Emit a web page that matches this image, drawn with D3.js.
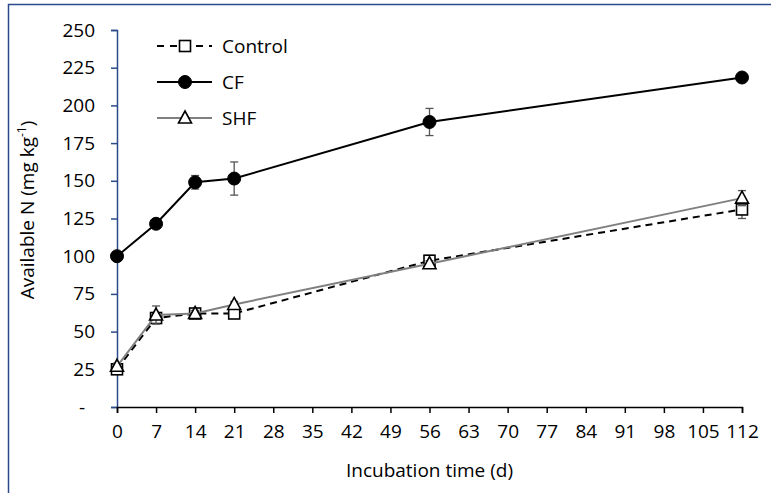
<!DOCTYPE html>
<html>
<head>
<meta charset="utf-8">
<script src="https://cdn.jsdelivr.net/npm/d3@7"></script>
<style>
  body { margin: 0; background: #fff; }
  text { font-family: "Open Sans", "Liberation Sans", sans-serif; fill: #000; }
</style>
</head>
<body>
<div id="chart"></div>
<script>
const days = [0, 7, 14, 21, 56, 112];

const controlVals = [25, 59, 62, 62, 97, 131];
const controlErr  = [2, 3, 2, 3, 3.5, 6];
const cfVals      = [100, 121.5, 149, 151.5, 189, 218.5];
const cfErr       = [1.5, 2, 4.5, 11, 9, 3];
const shfVals     = [27, 61, 62, 68, 95, 138.5];
const shfErr      = [2, 6, 2, 2, 2, 5];

const xTicks = d3.range(0, 113, 7);
const yTicks = [0, 25, 50, 75, 100, 125, 150, 175, 200, 225, 250];

const width  = 771;
const height = 493;
const margin = { left: 117, right: 29, top: 30, bottom: 86 };
const axisBlue = "#2a4a8c";
const fontSize = 19;

const svg = d3.select("#chart")
  .append("svg")
  .attr("width", width)
  .attr("height", height);

// outer frame
svg.append("rect")
  .attr("x", 8.5).attr("y", 4.5)
  .attr("width", width + 20).attr("height", height + 20)
  .attr("fill", "none")
  .attr("stroke", axisBlue)
  .attr("stroke-width", 1.5);

const x = d3.scaleLinear().domain([0, 112]).range([margin.left, width - margin.right]);
const y = d3.scaleLinear().domain([0, 250]).range([height - margin.bottom, margin.top]);

// y axis
const yAxis = svg.append("g")
  .attr("transform", `translate(${margin.left},0)`)
  .call(d3.axisLeft(y).tickValues(yTicks).tickSize(6).tickPadding(16)
    .tickFormat(d => d === 0 ? "-" : d));
yAxis.selectAll("path, line").attr("stroke", axisBlue).attr("stroke-width", 1.5);
yAxis.selectAll("text").attr("font-size", fontSize).style("font-family", "'Open Sans', sans-serif");
yAxis.selectAll(".tick").filter(d => d === 0).select("text").attr("dx", -10);

// x axis
const xAxis = svg.append("g")
  .attr("transform", `translate(0,${y(0)})`)
  .call(d3.axisBottom(x).tickValues(xTicks).tickSizeOuter(0).tickSize(6).tickPadding(12));
xAxis.selectAll("path, line").attr("stroke", "#000").attr("stroke-width", 1.5);
xAxis.selectAll("text").attr("font-size", fontSize).style("font-family", "'Open Sans', sans-serif");

// axis titles
svg.append("text")
  .attr("x", (x(0) + x(112)) / 2)
  .attr("y", 477)
  .attr("text-anchor", "middle")
  .attr("font-size", fontSize)
  .text("Incubation time (d)");

const yTitle = svg.append("text")
  .attr("transform", `translate(34,210) rotate(-90)`)
  .attr("text-anchor", "middle")
  .attr("font-size", fontSize);
yTitle.append("tspan").text("Available N (mg kg");
yTitle.append("tspan").attr("font-size", 12).attr("dy", -8).text("-1");
yTitle.append("tspan").attr("dy", 8).text(")");

const series = [
  { name: "Control", vals: controlVals, err: controlErr, color: "#000", dash: "7,5", marker: "square" },
  { name: "CF",      vals: cfVals,      err: cfErr,      color: "#000", dash: null,  marker: "circle" },
  { name: "SHF",     vals: shfVals,     err: shfErr,     color: "#808080", dash: null, marker: "triangle" }
];

const line = d3.line().x(d => x(d[0])).y(d => y(d[1]));

function drawMarker(g, type, cx, cy) {
  if (type === "circle") {
    g.append("circle").attr("cx", cx).attr("cy", cy).attr("r", 6.5)
      .attr("fill", "#000").attr("stroke", "#000");
  } else if (type === "square") {
    g.append("rect").attr("x", cx - 5.5).attr("y", cy - 5.5)
      .attr("width", 11).attr("height", 11)
      .attr("fill", "#fff").attr("stroke", "#000").attr("stroke-width", 1.6);
  } else {
    g.append("path")
      .attr("d", `M${cx},${cy - 7}L${cx + 6.5},${cy + 5}L${cx - 6.5},${cy + 5}Z`)
      .attr("fill", "#fff").attr("stroke", "#000").attr("stroke-width", 1.6);
  }
}

series.forEach(s => {
  const g = svg.append("g");
  const pts = days.map((d, i) => [d, s.vals[i], s.err[i]]);

  // error bars
  pts.forEach(p => {
    const cx = x(p[0]);
    const y1 = y(p[1] - p[2]), y2 = y(p[1] + p[2]);
    g.append("line").attr("x1", cx).attr("x2", cx).attr("y1", y1).attr("y2", y2)
      .attr("stroke", "#555").attr("stroke-width", 1.3);
    [y1, y2].forEach(yy => g.append("line")
      .attr("x1", cx - 4).attr("x2", cx + 4).attr("y1", yy).attr("y2", yy)
      .attr("stroke", "#555").attr("stroke-width", 1.3));
  });

  g.append("path")
    .datum(pts)
    .attr("d", line)
    .attr("fill", "none")
    .attr("stroke", s.color)
    .attr("stroke-width", 2)
    .attr("stroke-dasharray", s.dash);

  pts.forEach(p => drawMarker(g, s.marker, x(p[0]), y(p[1])));
});

// legend
const legend = svg.append("g");
series.forEach((s, i) => {
  const ly = 46 + i * 36;
  legend.append("line")
    .attr("x1", 157).attr("x2", 212).attr("y1", ly).attr("y2", ly)
    .attr("stroke", s.color).attr("stroke-width", 2)
    .attr("stroke-dasharray", s.dash ? "7,6" : null);
  drawMarker(legend, s.marker, 185, ly);
  legend.append("text")
    .attr("x", 222).attr("y", ly)
    .attr("dy", "0.35em")
    .attr("font-size", fontSize)
    .text(s.name);
});
</script>
</body>
</html>
